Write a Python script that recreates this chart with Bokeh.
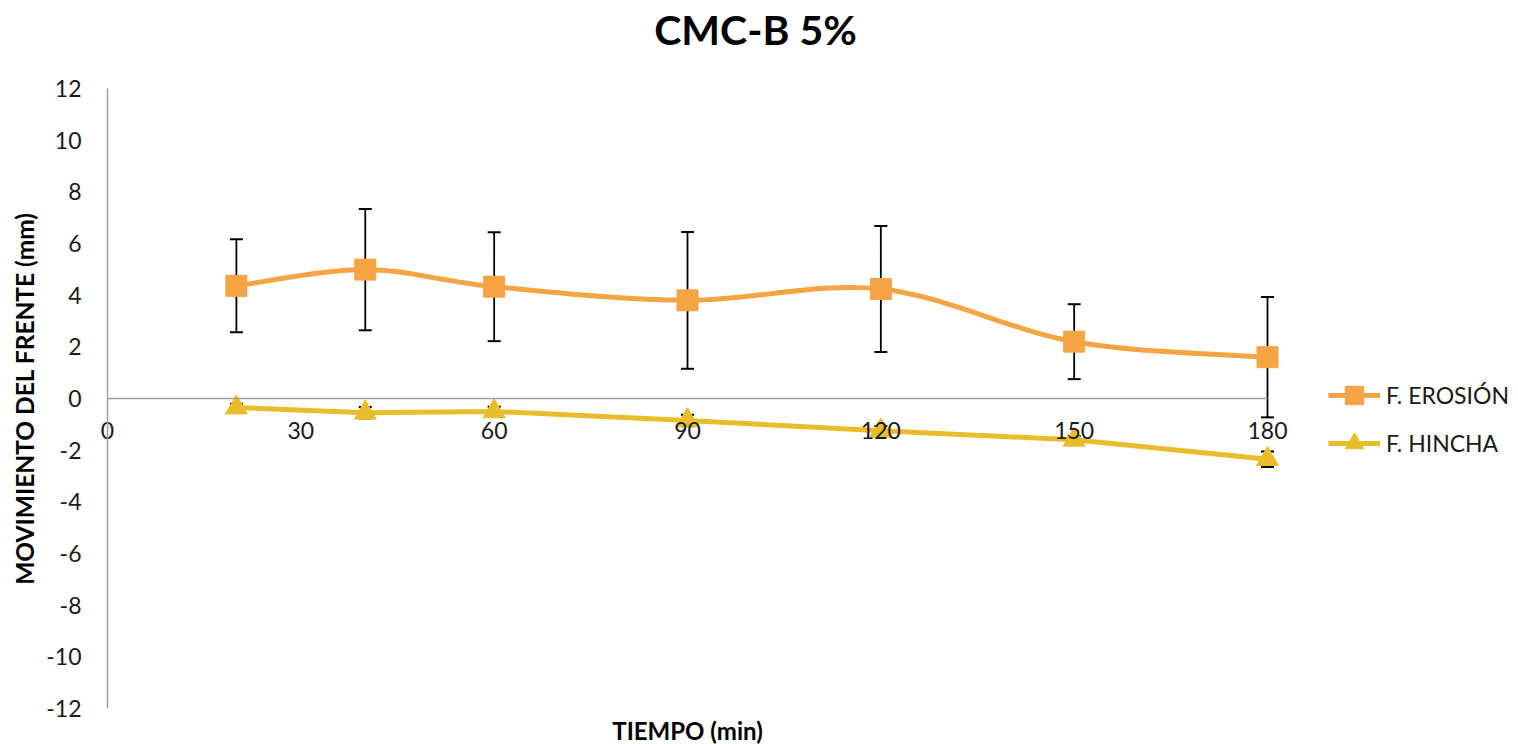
from bokeh.plotting import figure
from bokeh.models import Range1d, Legend, LegendItem, Whisker, ColumnDataSource, TeeHead, FixedTicker, Label
from bokeh.embed import file_html
from bokeh.resources import INLINE

# ---- data ----
tiempo = [20, 40, 60, 90, 120, 150, 180]
erosion = [4.36, 4.99, 4.33, 3.80, 4.24, 2.20, 1.60]
erosion_err = [1.80, 2.35, 2.11, 2.65, 2.44, 1.45, 2.33]
hincha = [-0.35, -0.55, -0.50, -0.85, -1.25, -1.60, -2.35]
hincha_err = [0.15, 0.22, 0.18, 0.22, 0.18, 0.15, 0.30]
x_ticks = [0, 30, 60, 90, 120, 150, 180]
y_ticks = [-12, -10, -8, -6, -4, -2, 0, 2, 4, 6, 8, 10, 12]
series_names = ["F. EROSIÓN", "F. HINCHA"]
title_text = "CMC-B 5%"
x_label = "TIEMPO (min)"
y_label = "MOVIMIENTO DEL FRENTE (mm)"

ORANGE = "#F4A443"
YELLOW = "#E8BC2A"
FONT = "Lato"

# layout geometry (pixels)
W, H = 1518, 744
X0_PX, X180_PX = 107, 1267        # screen x of t=0 and t=180
YTOP_PX, YBOT_PX = 88, 708        # screen y of +12 and -12
sx = (X180_PX - X0_PX) / (x_ticks[-1] - x_ticks[0])
sy = (YBOT_PX - YTOP_PX) / (y_ticks[-1] - y_ticks[0])
x_start = x_ticks[0] - X0_PX / sx
x_end = x_ticks[-1] + (W - X180_PX) / sx
y_end = y_ticks[-1] + YTOP_PX / sy
y_start = y_ticks[0] - (H - YBOT_PX) / sy

p = figure(frame_width=W, frame_height=H,
           min_border_left=0, min_border_right=0, min_border_top=0, min_border_bottom=0,
           x_range=Range1d(x_start, x_end), y_range=Range1d(y_start, y_end),
           output_backend="svg", toolbar_location=None)
p.outline_line_color = None
p.grid.visible = False
p.background_fill_color = "white"
p.border_fill_color = "white"
p.title.text = ""

# axes (both fixed in data space so nothing is clipped)
xa = p.xaxis[0]
xa.fixed_location = 0
xa.bounds = (x_ticks[0], x_ticks[-1])
xa.ticker = FixedTicker(ticks=x_ticks)
xa.major_label_overrides = {t: str(t) for t in x_ticks}
ya = p.yaxis[0]
ya.fixed_location = 0
ya.bounds = (y_ticks[0], y_ticks[-1])
ya.ticker = FixedTicker(ticks=y_ticks)
ya.major_label_overrides = {t: str(t) for t in y_ticks}
for ax in (xa, ya):
    ax.axis_line_color = "#a0a0a0"
    ax.axis_line_width = 1.5
    ax.major_tick_line_color = None
    ax.minor_tick_line_color = None
    ax.major_label_text_font = FONT
    ax.major_label_text_font_size = "23px"
    ax.major_label_text_color = "#1a1a1a"
xa.major_label_standoff = 17
ya.major_label_standoff = 20
ya.axis_label = y_label
ya.axis_label_text_font = FONT
ya.axis_label_text_font_style = "bold"
ya.axis_label_text_font_size = "24.5px"
ya.axis_label_text_color = "#000000"
ya.axis_label_standoff = 4

# smooth bezier (Excel-like) for erosion
n = len(tiempo)
bx0, by0, bx1, by1, cx0, cy0, cx1, cy1 = [], [], [], [], [], [], [], []
for i in range(n - 1):
    xm, ym = (tiempo[i - 1], erosion[i - 1]) if i > 0 else (tiempo[i], erosion[i])
    xp2, yp2 = (tiempo[i + 2], erosion[i + 2]) if i + 2 < n else (tiempo[i + 1], erosion[i + 1])
    bx0.append(tiempo[i]); by0.append(erosion[i])
    bx1.append(tiempo[i + 1]); by1.append(erosion[i + 1])
    cx0.append(tiempo[i] + (tiempo[i + 1] - xm) / 6.0)
    cy0.append(erosion[i] + (erosion[i + 1] - ym) / 6.0)
    cx1.append(tiempo[i + 1] - (xp2 - tiempo[i]) / 6.0)
    cy1.append(erosion[i + 1] - (yp2 - erosion[i]) / 6.0)

src_e = ColumnDataSource(dict(x=tiempo, y=erosion,
                              lo=[v - e for v, e in zip(erosion, erosion_err)],
                              hi=[v + e for v, e in zip(erosion, erosion_err)]))
src_h = ColumnDataSource(dict(x=tiempo, y=hincha,
                              lo=[v - e for v, e in zip(hincha, hincha_err)],
                              hi=[v + e for v, e in zip(hincha, hincha_err)]))

for src in (src_e, src_h):
    w = Whisker(base="x", lower="lo", upper="hi", source=src, dimension="height",
                line_color="black", line_width=1.8, level="underlay",
                upper_head=TeeHead(size=13, line_color="black", line_width=2),
                lower_head=TeeHead(size=13, line_color="black", line_width=2))
    p.add_layout(w)

r_e_line = p.bezier(x0=bx0, y0=by0, x1=bx1, y1=by1, cx0=cx0, cy0=cy0, cx1=cx1, cy1=cy1,
                    line_color=ORANGE, line_width=5)
r_e_mark = p.scatter("x", "y", source=src_e, marker="square", size=21,
                     fill_color=ORANGE, line_color=ORANGE)
r_h_line = p.line("x", "y", source=src_h, line_color=YELLOW, line_width=5)
r_h_mark = p.scatter("x", "y", source=src_h, marker="triangle", size=22,
                     fill_color=YELLOW, line_color=YELLOW)

legend = Legend(items=[LegendItem(label=series_names[0], renderers=[r_e_line, r_e_mark]),
                       LegendItem(label=series_names[1], renderers=[r_h_line, r_h_mark])],
                location=(1328, H - 466), orientation="vertical",
                label_text_font=FONT, label_text_font_size="23px", label_text_color="#1a1a1a",
                glyph_width=52, glyph_height=46, label_standoff=6, spacing=2,
                padding=0, margin=0, border_line_color=None, background_fill_alpha=0)
p.add_layout(legend, "center")

# title and x-axis title as labels (positions in pixels converted to data)
p.add_layout(Label(x=x_ticks[0] + (755 - X0_PX) / sx, y=y_ticks[-1] + (YTOP_PX - 29) / sy,
                   text=title_text, text_font=FONT, text_font_style="bold",
                   text_font_size="41px", text_align="center", text_baseline="middle",
                   text_color="#000000"))
p.add_layout(Label(x=(x_ticks[0] + x_ticks[-1]) / 2, y=y_ticks[0] - (730 - YBOT_PX) / sy,
                   text=x_label, text_font=FONT, text_font_style="bold",
                   text_font_size="24px", text_align="center", text_baseline="middle",
                   text_color="#000000"))

open("out.html", "w").write(file_html(p, INLINE))
